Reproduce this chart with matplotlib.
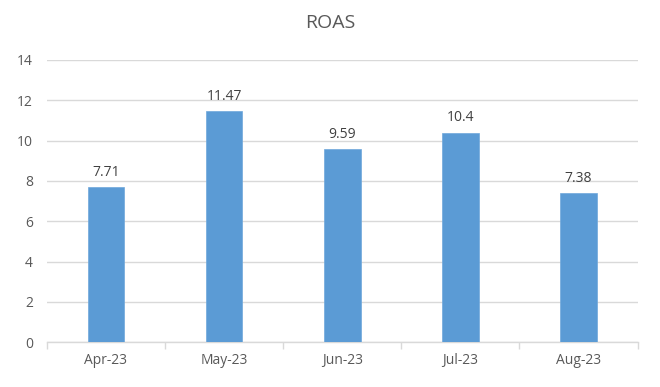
import matplotlib
matplotlib.use("Agg")
import matplotlib.pyplot as plt
import numpy as np

categories = ["Apr-23", "May-23", "Jun-23", "Jul-23", "Aug-23"]
values = [7.71, 11.47, 9.59, 10.4, 7.38]
labels = ["7.71", "11.47", "9.59", "10.4", "7.38"]
yticks = [0, 2, 4, 6, 8, 10, 12, 14]

plt.rcParams['font.family'] = ['Open Sans', 'DejaVu Sans']
txt = "#595959"

fig = plt.figure(figsize=(6.6, 3.87), dpi=100)
ax = fig.add_axes([0.071, 0.116, 0.895, 0.729])
x = np.arange(len(categories))
bars = ax.bar(x, values, width=0.31, color="#5B9BD5", edgecolor="#6FA8DC", linewidth=0.5, zorder=3)
for xi, v, lab in zip(x, values, labels):
    ax.text(xi, v + 0.35, lab, ha="center", va="bottom", fontsize=10, color="#404040")

ax.set_xlim(-0.5, len(categories) - 0.5)
ax.set_ylim(0, 14)
ax.set_yticks(yticks)
ax.set_yticklabels([str(t) for t in yticks])
ax.set_xticks(x)
ax.set_xticklabels(categories)
ax.grid(axis="y", color="#D9D9D9", linewidth=1, zorder=0)
for s in ["top", "right", "left"]:
    ax.spines[s].set_visible(False)
ax.spines["bottom"].set_color("#D9D9D9")
ax.spines["bottom"].set_linewidth(1)
ax.tick_params(axis="y", length=0, pad=10, labelsize=10, labelcolor=txt)
ax.tick_params(axis="x", length=0, pad=8, labelsize=10, labelcolor=txt)
# category boundary tick marks
ax.set_xticks(np.arange(-0.5, len(categories), 1.0), minor=True)
ax.tick_params(axis="x", which="minor", length=5, color="#D9D9D9", width=1)

fig.suptitle("ROAS", y=0.965, fontsize=14, color=txt)
fig.savefig("out.png", dpi=100)
